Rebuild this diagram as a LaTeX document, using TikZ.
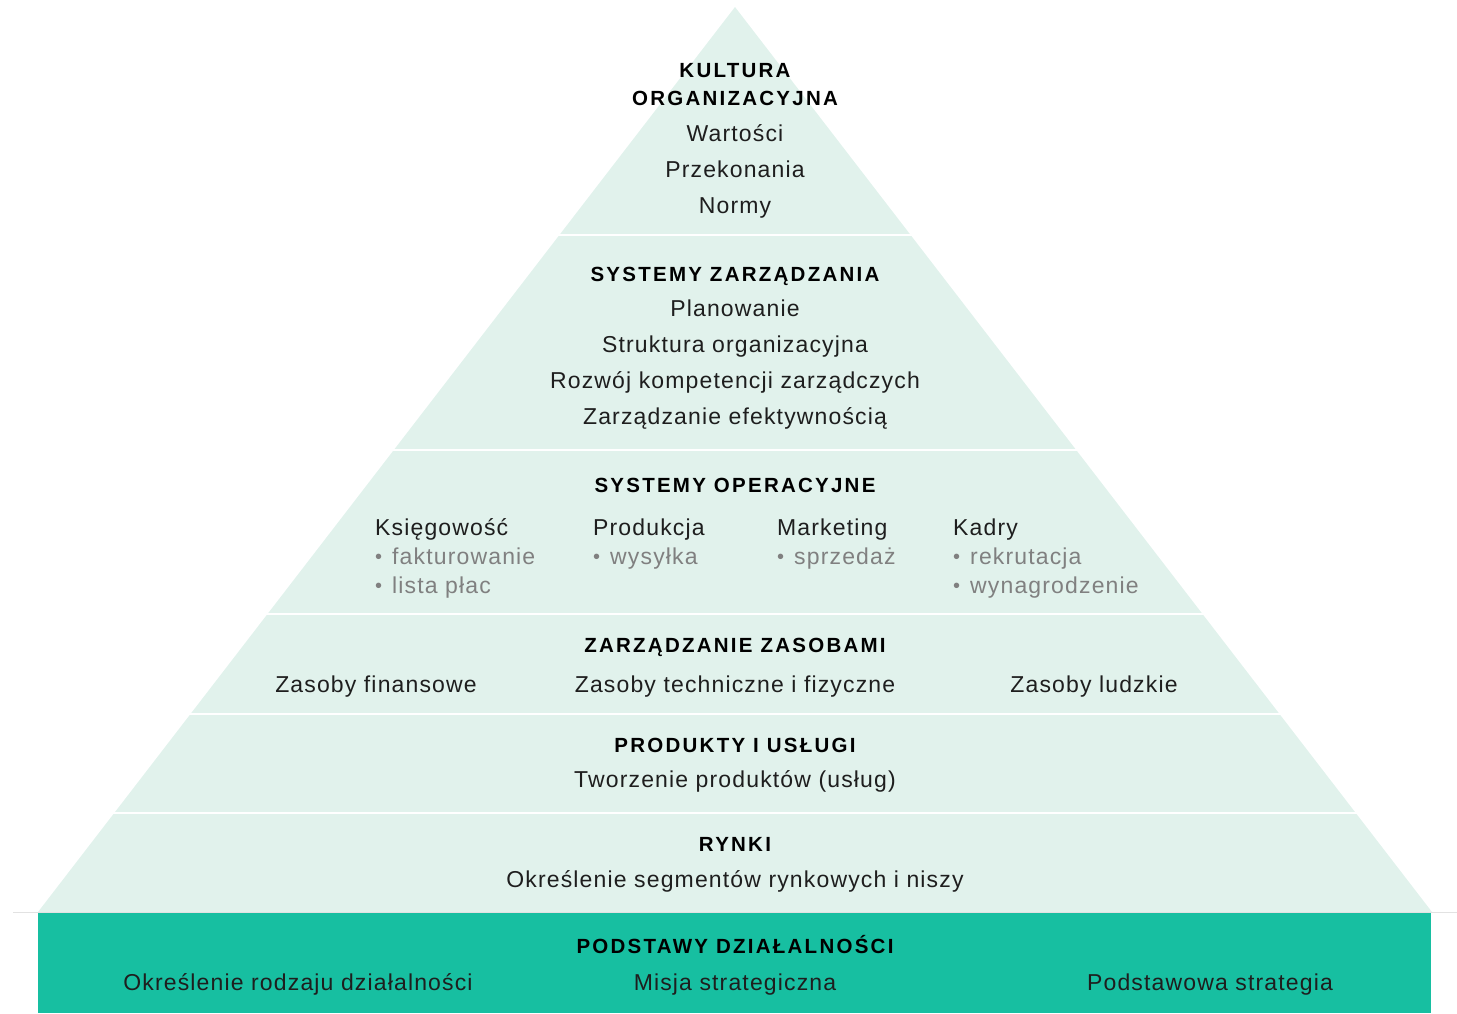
\documentclass[tikz,border=0pt]{standalone}
\usepackage{fontspec}
\setmainfont{Liberation Sans}[LetterSpace=5]
\newfontfamily\headfont{Liberation Sans}[LetterSpace=11]
\definecolor{mint}{HTML}{E1F2EC}
\definecolor{basecol}{HTML}{17BFA1}
\definecolor{txt}{HTML}{1E1E1E}
\definecolor{subtxt}{HTML}{808080}
\definecolor{hairline}{HTML}{E2E2E2}
\newcommand{\bul}{{\fontsize{20}{20}\selectfont\raisebox{1pt}{•}}\hspace{10pt}}
\begin{document}
\begin{tikzpicture}[x=1pt,y=-1pt,
  head/.style={font=\headfont\bfseries\fontsize{20.5}{24}\selectfont, text=black, anchor=base, inner sep=0pt},
  body/.style={font=\fontsize{23}{27}\selectfont, text=txt, anchor=base, inner sep=0pt},
  item/.style={body, anchor=base west},
  subitem/.style={body, text=subtxt, anchor=base west},
  sepline/.style={draw=white, line width=2.5pt}]
\useasboundingbox (0,0) rectangle (1457,1013);
% pyramid
\fill[mint] (735,7) -- (1432,912) -- (38,912) -- cycle;
\foreach \yy in {235,450,614,714,813} \draw[sepline] (0,\yy) -- (1457,\yy);
\draw[hairline, line width=1pt] (13,912) -- (1457,912);
\fill[basecol] (38,913) rectangle (1431,1013);
% level 1
\node[head] (k1) at (735,77) {KULTURA};
\node[head] (k2) at (735,105) {ORGANIZACYJNA};
\node[body] (k3) at (735,141) {Wartości};
\node[body] (k4) at (735,177) {Przekonania};
\node[body] (k5) at (735,213) {Normy};
% level 2
\node[head] (z1) at (735,281) {SYSTEMY ZARZĄDZANIA};
\node[body] (z2) at (735,316) {Planowanie};
\node[body] (z3) at (735,352) {Struktura organizacyjna};
\node[body] (z4) at (735,388) {Rozwój kompetencji zarządczych};
\node[body] (z5) at (735,424) {Zarządzanie efektywnością};
% level 3
\node[head] (o1) at (735,492) {SYSTEMY OPERACYJNE};
\node[item] (o2) at (375,535) {Księgowość};
\node[subitem] (o3) at (375,564) {\bul fakturowanie};
\node[subitem] (o4) at (375,593) {\bul lista płac};
\node[item] (o5) at (593,535) {Produkcja};
\node[subitem] (o6) at (593,564) {\bul wysyłka};
\node[item] (o7) at (777,535) {Marketing};
\node[subitem] (o8) at (777,564) {\bul sprzedaż};
\node[item] (o9) at (953,535) {Kadry};
\node[subitem] (o10) at (953,564) {\bul rekrutacja};
\node[subitem] (o11) at (953,593) {\bul wynagrodzenie};
% level 4
\node[head] (r1) at (735,652) {ZARZĄDZANIE ZASOBAMI};
\node[body] (r2) at (376,692) {Zasoby finansowe};
\node[body] (r3) at (735,692) {Zasoby techniczne i fizyczne};
\node[body] (r4) at (1094,692) {Zasoby ludzkie};
% level 5
\node[head] (p1) at (735,752) {PRODUKTY I USŁUGI};
\node[body] (p2) at (735,787) {Tworzenie produktów (usług)};
% level 6
\node[head] (m1) at (735,851) {RYNKI};
\node[body] (m2) at (735,887) {Określenie segmentów rynkowych i niszy};
% base
\node[head] (b1) at (735,953) {PODSTAWY DZIAŁALNOŚCI};
\node[body] (b2) at (298,990) {Określenie rodzaju działalności};
\node[body] (b3) at (735,990) {Misja strategiczna};
\node[body] (b4) at (1210,990) {Podstawowa strategia};
\end{tikzpicture}
\end{document}
